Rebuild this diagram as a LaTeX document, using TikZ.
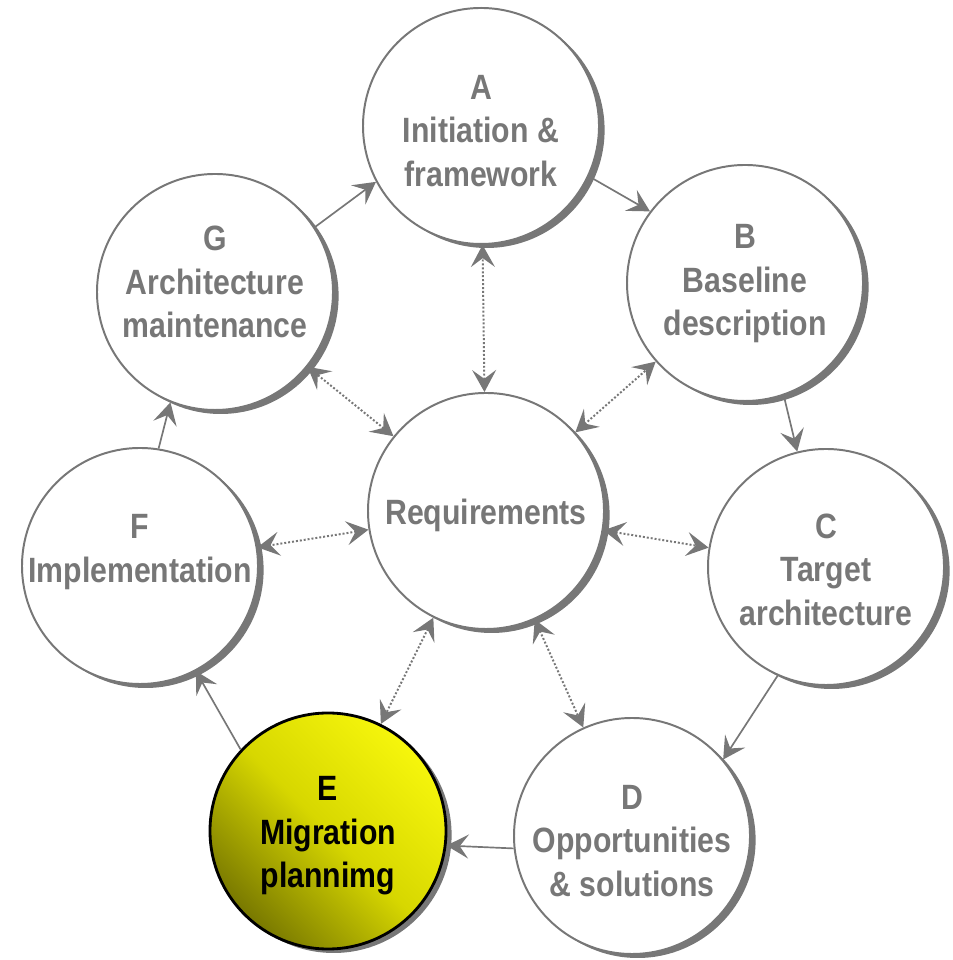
\documentclass[tikz,border=0pt]{standalone}
\usepackage{fontspec}
\newfontfamily\stagefont{Liberation Sans}[FakeStretch=0.86]
\usetikzlibrary{arrows.meta,shadows}
\definecolor{ringgray}{RGB}{119,119,119}
\definecolor{planlight}{RGB}{246,246,12}
\definecolor{planmid}{RGB}{215,215,0}
\definecolor{plandark}{RGB}{120,120,0}

\begin{document}
\begin{tikzpicture}[
  >={Stealth[length=0.55cm,width=0.6cm,inset=0.22cm]},
  stage/.style={circle,draw=ringgray,line width=1.4pt,fill=white,minimum size=5.9cm,inner sep=0pt,
    drop shadow={shadow xshift=0.14cm,shadow yshift=-0.1cm,fill=ringgray,opacity=1}},
  stagetext/.style={align=center,text=ringgray,yshift=-0.12cm,
    font=\stagefont\bfseries\fontsize{25}{31}\selectfont},
  flow/.style={->,ringgray,line width=1.2pt},
  link/.style={<->,ringgray,line width=1.4pt,dash pattern=on 1.4pt off 1.4pt}
]
\useasboundingbox (0,0) rectangle (23.8,24);

\node[stage,label={[stagetext]center:{A\\Initiation \&\\framework}}] (A) at (12.025,20.85) {};
\node[stage,label={[stagetext,yshift=0.1cm]center:{B\\Baseline\\description}}] (B) at (18.625,16.925) {};
\node[stage,label={[stagetext,yshift=0.05cm]center:{C\\Target\\architecture}}] (C) at (20.65,9.825) {};
\node[stage,label={[stagetext]center:{D\\Opportunities\\\& solutions}}] (D) at (15.8,3.1) {};
\node[stage,draw=black,line width=2pt,top color=planlight,bottom color=plandark,middle color=planmid,
  shading angle=-45,label={[stagetext,text=black]center:{E\\Migration\\plannimg}}] (E) at (8.2,3.225) {};
\node[stage,label={[stagetext,yshift=0.47cm]center:{F\\Implementation}}] (F) at (3.5,9.85) {};
\node[stage,label={[stagetext,yshift=0.37cm]center:{G\\Architecture\\maintenance}}] (G) at (5.375,16.7) {};
\node[stage,label={[stagetext]center:{Requirements}}] (R) at (12.15,11.225) {};

% cycle A to G
\draw[flow] (G.33) -- (A.208);
\draw[flow] (A.335) -- (B.143);
\draw[flow] (B.289) -- (C.104);
\draw[flow] (C.246) -- (D.40);
\draw[flow] (D.186) -- (E.353);
\draw[flow] (E.137) -- (F.298);
\draw[flow] (F.81) -- (G.248);

% requirements in the middle
\draw[link] (R) -- (A);
\draw[link] (R) -- (B);
\draw[link] (R) -- (C);
\draw[link] (R) -- (D);
\draw[link] (R) -- (E);
\draw[link] (R) -- (F);
\draw[link] (R) -- (G);

\end{tikzpicture}
\end{document}
